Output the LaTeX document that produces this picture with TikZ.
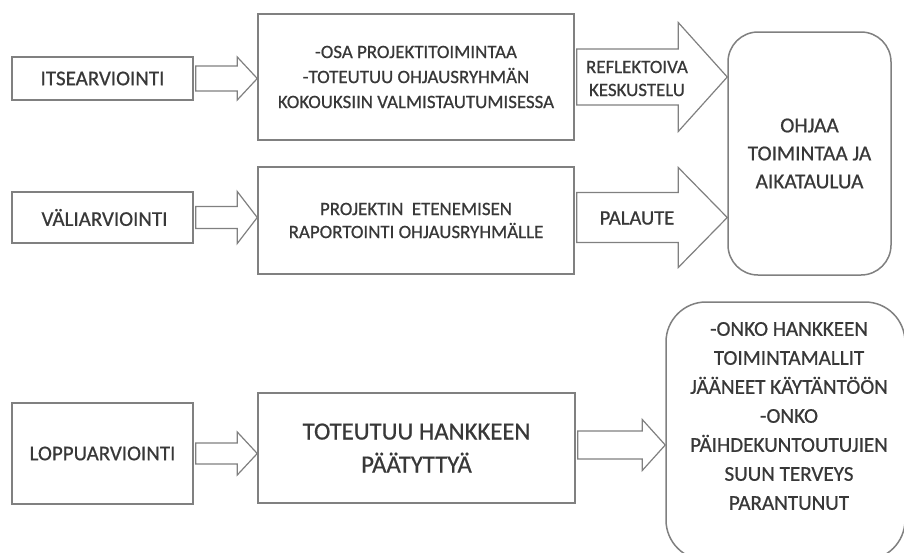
\documentclass[tikz,border=0pt]{standalone}
\usepackage{fontspec}
\setmainfont{Carlito}[FakeBold=0.6]
\usetikzlibrary{calc}
\definecolor{ln}{HTML}{808080}
\definecolor{tx}{HTML}{383838}
\newcommand\fsz[2]{\fontsize{#1}{#2}\selectfont}
% #1 source anchor, #2 tip point, #3 head length, #4 body half height, #5 head half height
\newcommand\blockarr[5]{%
  \draw[blk] let \p1=(#1), \p2=(#2) in
    (\x1+2pt,\y2+#4pt) -- (\x2-#3pt,\y2+#4pt) -- (\x2-#3pt,\y2+#5pt) -- (\x2,\y2)
    -- (\x2-#3pt,\y2-#5pt) -- (\x2-#3pt,\y2-#4pt) -- (\x1+2pt,\y2-#4pt) -- cycle;}
\begin{document}
\begin{tikzpicture}[x=1pt,y=-1pt,
  box/.style={draw=ln,line width=1.5pt,inner sep=0pt,align=center,text=tx},
  rbox/.style={box,rounded corners=#1},
  blk/.style={draw=ln,line width=1.2pt,fill=white,line join=miter},
  lbl/.style={inner sep=0pt,align=center,text=tx}]
\useasboundingbox (0,0) rectangle (904,552);
\clip (0,0) rectangle (904,552);
\fill[white] (0,0) rectangle (904,552);

% left column
\node[box,minimum width=181pt,minimum height=43pt,font=\fsz{21}{26}] (itse) at (102.5,78.5) {ITSEARVIOINTI};
\node[box,minimum width=181pt,minimum height=51pt,font=\fsz{21}{26}] (vali) at (102.5,217.5) {\hspace*{4pt}VÄLIARVIOINTI};
\node[box,minimum width=181pt,minimum height=101pt,font=\fsz{21}{26}] (loppu) at (102.5,453.5) {LOPPUARVIOINTI};

% middle column
\node[box,minimum width=316pt,minimum height=126pt,font=\fsz{18.9}{25}] (osa) at (416,77)
  {-OSA PROJEKTITOIMINTAA\\-TOTEUTUU OHJAUSRYHMÄN\\KOKOUKSIIN VALMISTAUTUMISESSA};
\node[box,minimum width=316pt,minimum height=107pt,font=\fsz{18.9}{23}] (proj) at (416,220.5)
  {PROJEKTIN\ \ ETENEMISEN\\RAPORTOINTI OHJAUSRYHMÄLLE};
\node[box,minimum width=317pt,minimum height=110pt,font=\fsz{24.7}{33}] (tot) at (416.5,448)
  {TOTEUTUU HANKKEEN\\PÄÄTYTTYÄ};

% right column
\node[rbox=30pt,minimum width=163pt,minimum height=243pt,font=\fsz{21.3}{28}] (ohjaa) at (809.5,153.5)
  {OHJAA\\TOIMINTAA JA\\AIKATAULUA};
\node[rbox=40pt,minimum width=239pt,minimum height=258pt] (onko) at (785.5,431) {};
\node[lbl,font=\fsz{21.1}{29}] (onkotext) at (789,416)
  {-ONKO HANKKEEN\\TOIMINTAMALLIT\\JÄÄNEET KÄYTÄNTÖÖN\\-ONKO\\PÄIHDEKUNTOUTUJIEN\\SUUN TERVEYS\\PARANTUNUT};

% block arrows
\blockarr{itse.east}{osa.west |- itse.east}{20}{12.5}{21.5}
\blockarr{vali.east}{proj.west |- vali.east}{20}{11}{26}
\blockarr{loppu.east}{tot.west |- loppu.east}{20}{10.5}{21.5}
\blockarr{osa.east}{ohjaa.west |- osa.east}{49}{28}{54.5}
\blockarr{proj.east}{$(ohjaa.west |- proj.east)+(0,-3)$}{49}{25}{50}
\blockarr{tot.east}{$(onko.west |- tot.east)+(0,-3)$}{23}{14}{25.5}

\node[lbl,font=\fsz{18.9}{23}] (refl) at (637,78.5) {REFLEKTOIVA\\KESKUSTELU};
\node[lbl,font=\fsz{20.6}{24}] (pal) at (637,218) {PALAUTE};
\end{tikzpicture}
\end{document}
